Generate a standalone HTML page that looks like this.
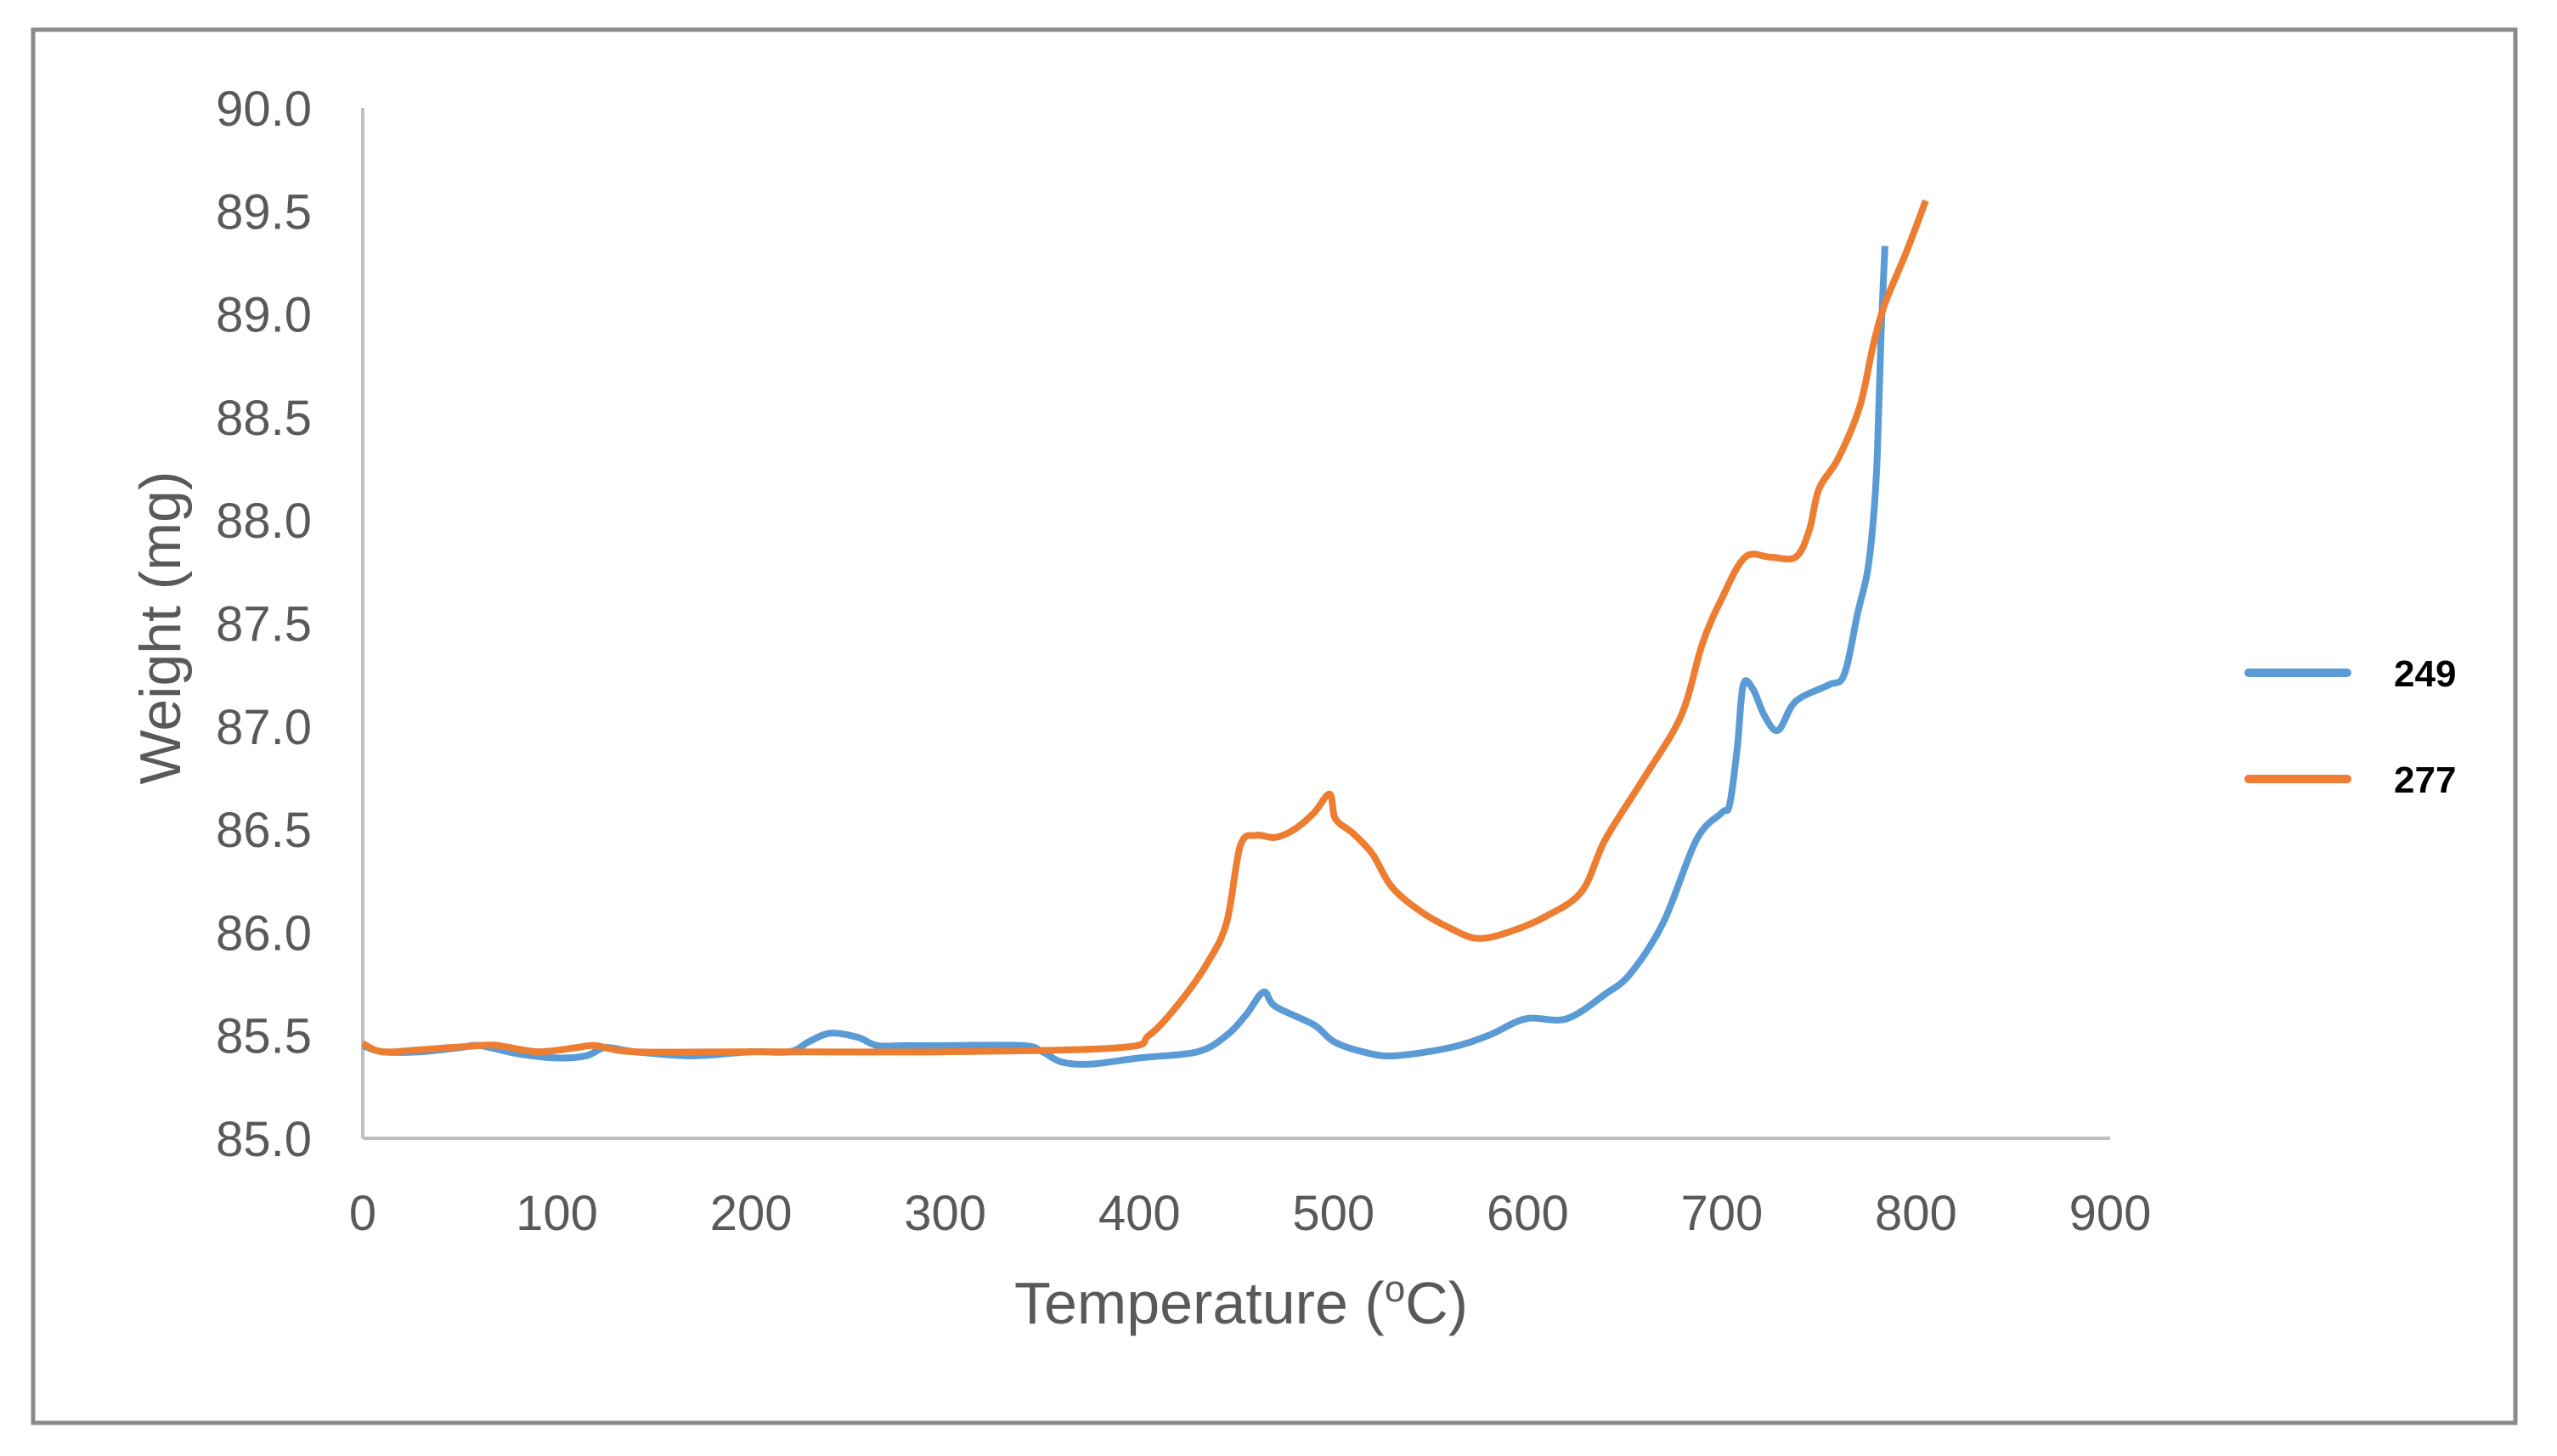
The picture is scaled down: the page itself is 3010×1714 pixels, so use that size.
<!DOCTYPE html>
<html><head><meta charset="utf-8"><style>
html,body{margin:0;padding:0;background:#fff;}
svg{display:block;}
text{font-family:"Liberation Sans",sans-serif;}
</style></head><body>
<svg id="chart" width="3010" height="1714" viewBox="0 0 3010 1714" xmlns="http://www.w3.org/2000/svg">
<rect x="39" y="35" width="2922" height="1640" fill="#fff" stroke="#8a8a8a" stroke-width="5"/>
<g id="axes"></g>
<g id="series"></g>
<text x="1461" y="1558" font-size="70" fill="#595959" text-anchor="middle">Temperature (<tspan font-size="44" dy="-26">o</tspan><tspan dy="26">C)</tspan></text>
<text x="0" y="0" font-size="68" fill="#595959" text-anchor="middle" transform="translate(212,739) rotate(-90)">Weight (mg)</text>
<g>
<line x1="2647" y1="792" x2="2763" y2="792" stroke="#5B9BD5" stroke-width="10" stroke-linecap="round"/>
<text x="2818" y="808" font-size="44" font-weight="bold" fill="#000">249</text>
<line x1="2647" y1="917" x2="2763" y2="917" stroke="#ED7D31" stroke-width="10" stroke-linecap="round"/>
<text x="2818" y="933" font-size="44" font-weight="bold" fill="#000">277</text>
</g>
</svg>
<script>
const xTicks=[0,100,200,300,400,500,600,700,800,900];
const yTicks=[85.0,85.5,86.0,86.5,87.0,87.5,88.0,88.5,89.0,89.5,90.0];
const t249=[0,10,30,50,60,80,100,115,125,140,170,200,220,230,241,255,265,280,300,340,350,360,375,400,430,445,455,464,470,490,500,515,531,560,580,599,620,640,653,670,687,700,704,708,711,716,722,729,738,755,763,770,775,778,780,782,784];
const v249=[85.45,85.42,85.42,85.44,85.45,85.41,85.39,85.40,85.44,85.42,85.40,85.42,85.42,85.47,85.51,85.49,85.45,85.45,85.45,85.45,85.42,85.37,85.36,85.39,85.42,85.50,85.60,85.71,85.64,85.55,85.47,85.42,85.40,85.44,85.50,85.58,85.58,85.70,85.80,86.05,86.45,86.58,86.62,86.9,87.2,87.18,87.05,86.98,87.12,87.2,87.25,87.55,87.75,88.0,88.3,88.9,89.33];
const t277=[0,10,30,60,70,90,110,120,140,200,300,390,405,420,435,445,452,460,470,480,490,498,501,510,520,530,545,560,574,590,610,628,640,660,679,690,700,712,725,738,745,750,760,771,778,784,795,805];
const v277=[85.46,85.42,85.43,85.45,85.45,85.42,85.44,85.45,85.42,85.42,85.42,85.44,85.50,85.65,85.85,86.05,86.42,86.47,86.46,86.50,86.58,86.67,86.55,86.48,86.38,86.22,86.10,86.02,85.97,86.00,86.08,86.2,86.45,86.75,87.05,87.4,87.62,87.82,87.82,87.82,87.95,88.15,88.3,88.55,88.85,89.05,89.3,89.55];
const X0=427,X1=2484,Y0=1340,Y1=127;
function xs(t){return X0+(t-0)/(900-0)*(X1-X0);}
function ys(v){return Y0-(v-85)/(90-85)*(Y0-Y1);}
const NS="http://www.w3.org/2000/svg";
const axes=document.getElementById('axes');
const ya=document.createElementNS(NS,'line');


ya.setAttribute('x1',X0);ya.setAttribute('x2',X0);ya.setAttribute('y1',Y1);ya.setAttribute('y2',Y0);
ya.setAttribute('stroke','#bfbfbf');ya.setAttribute('stroke-width','4');axes.appendChild(ya);
const xa=document.createElementNS(NS,'line');


xa.setAttribute('x1',X0);xa.setAttribute('x2',X1);xa.setAttribute('y1',Y0);xa.setAttribute('y2',Y0);
xa.setAttribute('stroke','#bfbfbf');xa.setAttribute('stroke-width','4');axes.appendChild(xa);
yTicks.forEach(v=>{const t=document.createElementNS(NS,'text');


t.setAttribute('x',367);t.setAttribute('y',ys(v)+21);t.setAttribute('text-anchor','end');
t.setAttribute('font-size','58');t.setAttribute('fill','#595959');t.textContent=v.toFixed(1);axes.appendChild(t);});
xTicks.forEach(v=>{const t=document.createElementNS(NS,'text');


t.setAttribute('x',xs(v));t.setAttribute('y',1448);t.setAttribute('text-anchor','middle');
t.setAttribute('font-size','58');t.setAttribute('fill','#595959');t.textContent=v;axes.appendChild(t);});
function path(ts,vs){const p=ts.map((t,i)=>[xs(t),ys(vs[i])]);let d='M'+p[0][0]+','+p[0][1];
for(let i=0;i<p.length-1;i++){const a=p[Math.max(0,i-1)],b=p[i],c=p[i+1],e=p[Math.min(p.length-1,i+2)];
const k=1/6;d+=' C'+(b[0]+(c[0]-a[0])*k)+','+(b[1]+(c[1]-a[1])*k)+' '+(c[0]-(e[0]-b[0])*k)+','+(c[1]-(e[1]-b[1])*k)+' '+c[0]+','+c[1];}
return d;}
const sg=document.getElementById('series');
const s1=document.createElementNS(NS,'path');


s1.setAttribute('d',path(t249,v249));s1.setAttribute('fill','none');s1.setAttribute('stroke','#5B9BD5');s1.setAttribute('stroke-width','8');s1.setAttribute('stroke-linejoin','round');sg.appendChild(s1);
const s2=document.createElementNS(NS,'path');


s2.setAttribute('d',path(t277,v277));s2.setAttribute('fill','none');s2.setAttribute('stroke','#ED7D31');s2.setAttribute('stroke-width','8');s2.setAttribute('stroke-linejoin','round');sg.appendChild(s2);
</script>
</body></html>
